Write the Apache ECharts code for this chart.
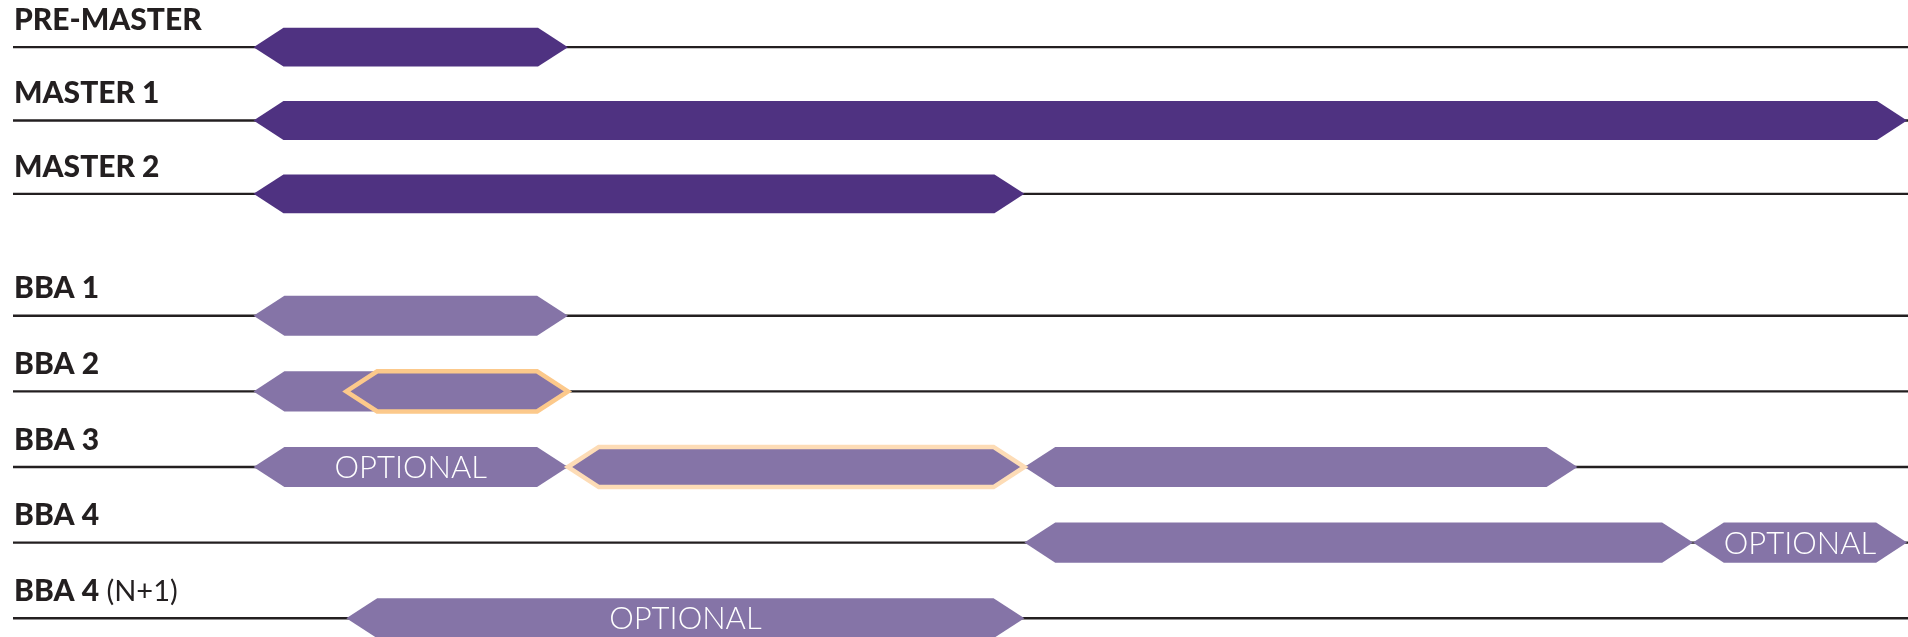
<!DOCTYPE html>
<html>
<head>
<meta charset="utf-8">
<style>
  html, body { margin: 0; padding: 0; background: #ffffff; }
  #chart { width: 1908px; height: 637px; }
</style>
<script src="https://cdn.jsdelivr.net/npm/echarts@6/dist/echarts.min.js"></script>
</head>
<body>
<div id="chart"></div>
<script>
// ---- data ----
const timelineMin = 0;
const timelineMax = 100;
const masterRows = ['PRE-MASTER', 'MASTER 1', 'MASTER 2'];
const bbaRows = ['BBA 1', 'BBA 2', 'BBA 3', 'BBA 4', 'BBA 4 (N+1)'];
// [rowIndex, start, end]
const masterSegments = [
  [0, 12.7, 29.3],
  [1, 12.7, 100],
  [2, 12.7, 53.4]
];
// [rowIndex, start, end, note]
const bbaSegments = [
  [0, 12.7, 29.3, ''],
  [1, 12.7, 29.3, ''],
  [2, 12.7, 29.3, 'OPTIONAL'],
  [2, 53.4, 82.6, ''],
  [3, 53.4, 88.7, ''],
  [3, 88.7, 100, 'OPTIONAL'],
  [4, 17.6, 53.4, 'OPTIONAL']
];
// [rowIndex, start, end, level]
const bbaHighlights = [
  [1, 17.6, 29.3, 1],
  [2, 29.3, 53.4, 2]
];

// ---- styles ----
const DARK = '#4f3281';
const LIGHT = '#8574a7';
const HL = { 1: '#fcc98b', 2: '#fddcb6' };
const LINE = '#231f20';

function hexPoints(api, row, s, e) {
  const p0 = api.coord([s, row]);
  const p1 = api.coord([e, row]);
  const band = api.size([0, 1])[1];
  const h = band * 0.53;
  const t = h * 0.77;
  const hh = h / 2;
  const y = p0[1];
  return [
    [p0[0], y], [p0[0] + t, y - hh], [p1[0] - t, y - hh],
    [p1[0], y], [p1[0] - t, y + hh], [p0[0] + t, y + hh]
  ];
}

function makeHex(color) {
  return function (params, api) {
    const row = api.value(0), s = api.value(1), e = api.value(2);
    const pts = hexPoints(api, row, s, e);
    const children = [{
      type: 'polygon',
      shape: { points: pts },
      style: { fill: color, stroke: null }
    }];
    const note = api.value(3);
    if (typeof note === 'string' && note) {
      const c = [(pts[0][0] + pts[3][0]) / 2, pts[0][1]];
      children.push({
        type: 'text',
        style: {
          text: note, x: c[0], y: c[1] + 1,
          fill: '#ffffff', font: '300 31px Lato, "Open Sans", sans-serif',
          align: 'center', verticalAlign: 'middle'
        }
      });
    }
    return { type: 'group', children };
  };
}

function hlItem(params, api) {
  const row = api.value(0), s = api.value(1), e = api.value(2), lvl = api.value(3);
  const pts = hexPoints(api, row, s, e);
  return {
    type: 'polygon',
    shape: { points: pts },
    style: { fill: LIGHT, stroke: HL[lvl], lineWidth: 4.5, lineJoin: 'miter' }
  };
}

function baseItem(rows) {
  return function (params, api) {
    const row = api.value(0);
    const p0 = api.coord([timelineMin, row]);
    const p1 = api.coord([timelineMax, row]);
    const name = rows[row];
    const m = name.match(/^(.*?)\s*(\(.*\))$/);
    const text = m ? '{b|' + m[1] + '}{r| ' + m[2] + '}' : '{b|' + name + '}';
    return {
      type: 'group',
      children: [
        {
          type: 'line',
          shape: { x1: p0[0], y1: p0[1], x2: p1[0] + 2, y2: p1[1] },
          style: { stroke: LINE, lineWidth: 2.4 }
        },
        {
          type: 'text',
          style: {
            text: text, x: p0[0] + 1, y: p0[1] - 27,
            align: 'left', verticalAlign: 'middle',
            rich: {
              b: { font: '900 30px Lato, "Open Sans", sans-serif', fill: '#231f20' },
              r: { font: '400 29px Lato, "Open Sans", sans-serif', fill: '#231f20' }
            }
          }
        }
      ]
    };
  };
}

const chart = echarts.init(document.getElementById('chart'), null, { renderer: 'canvas' });
chart.setOption({
  animation: false,
  backgroundColor: '#ffffff',
  grid: [
    { left: 13, right: 1, top: 10.5, height: 220, outerBoundsMode: 'none' },
    { left: 13, right: 1, top: 278, height: 378, outerBoundsMode: 'none' }
  ],
  xAxis: [
    { type: 'value', gridIndex: 0, min: timelineMin, max: timelineMax, show: false },
    { type: 'value', gridIndex: 1, min: timelineMin, max: timelineMax, show: false }
  ],
  yAxis: [
    { type: 'category', gridIndex: 0, data: masterRows, inverse: true, show: false },
    { type: 'category', gridIndex: 1, data: bbaRows, inverse: true, show: false }
  ],
  series: [
    {
      type: 'custom', xAxisIndex: 0, yAxisIndex: 0, clip: false,
      data: masterRows.map((r, i) => [i]), encode: { y: 0 },
      renderItem: baseItem(masterRows)
    },
    {
      type: 'custom', xAxisIndex: 1, yAxisIndex: 1, clip: false,
      data: bbaRows.map((r, i) => [i]), encode: { y: 0 },
      renderItem: baseItem(bbaRows)
    },
    {
      type: 'custom', xAxisIndex: 0, yAxisIndex: 0, clip: false,
      data: masterSegments, encode: { x: [1, 2], y: 0 },
      renderItem: makeHex(DARK)
    },
    {
      type: 'custom', xAxisIndex: 1, yAxisIndex: 1, clip: false,
      data: bbaSegments, encode: { x: [1, 2], y: 0 },
      dimensions: ['row', 'start', 'end', { name: 'note', type: 'ordinal' }],
      renderItem: makeHex(LIGHT)
    },
    {
      type: 'custom', xAxisIndex: 1, yAxisIndex: 1, clip: false,
      data: bbaHighlights, encode: { x: [1, 2], y: 0 },
      renderItem: hlItem
    }
  ]
});
</script>
</body>
</html>
